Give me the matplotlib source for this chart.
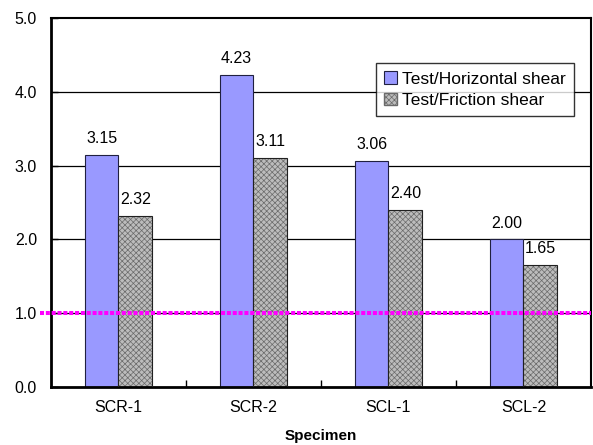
import numpy as np
import matplotlib.pyplot as plt

specimens = ['SCR-1', 'SCR-2', 'SCL-1', 'SCL-2']
horizontal_ratio = [3.15, 4.23, 3.06, 2.00]
friction_ratio = [2.32, 3.11, 2.40, 1.65]
ratio_ref = 1.0

plt.rcParams['font.family'] = ['Liberation Sans', 'DejaVu Sans']
plt.rcParams['hatch.linewidth'] = 0.5

fig = plt.figure(figsize=(5.93, 4.45), dpi=100)
ax = fig.add_axes([0.086, 0.130, 0.9105, 0.8296])

x = np.arange(len(specimens))
w = 0.25

# horizontal grid lines behind the bars
for yv in [1, 2, 3, 4]:
    ax.axhline(yv, color='black', lw=0.9, zorder=0)

ax.bar(x - w / 2, horizontal_ratio, w, color='#9999ff', edgecolor='#202040',
       linewidth=0.8, zorder=2, label='Test/Horizontal shear')
# hatched grey bars: texture first, then outline
ax.bar(x + w / 2, friction_ratio, w, color='#bcbcbc', edgecolor='#6a6a6a',
       hatch='xxxxxx', linewidth=0, zorder=2)
ax.bar(x + w / 2, friction_ratio, w, fill=False, edgecolor='#202020',
       linewidth=0.8, zorder=3)
ax.bar([0], [0], 0, color='#bcbcbc', edgecolor='#6a6a6a', hatch='xxxxxx',
       label='Test/Friction shear')

for xi, v in zip(x - w / 2, horizontal_ratio):
    ax.text(xi, v + 0.12, f'{v:.2f}', ha='center', va='bottom', fontsize=11.5)
for xi, v in zip(x + w / 2, friction_ratio):
    ax.text(xi, v + 0.12, f'{v:.2f}', ha='center', va='bottom', fontsize=11.5)

ax.plot([-0.58, 3.5], [ratio_ref, ratio_ref], color='#ff00ff', lw=2.9,
        dashes=(1, 0.45), zorder=4, clip_on=False)

ax.set_xlim(-0.5, 3.5)
ax.set_ylim(0, 5)
ax.set_yticks(np.arange(0, 5.1, 1.0))
ax.set_yticklabels([f'{v:.1f}' for v in np.arange(0, 5.1, 1.0)], fontsize=11.5)
ax.set_xticks(x)
ax.set_xticklabels(specimens, fontsize=11.5)
ax.set_xticks([0.5, 1.5, 2.5], minor=True)
ax.tick_params(axis='x', which='major', length=0, pad=9)
ax.tick_params(axis='x', which='minor', direction='in', length=5, width=1)
ax.tick_params(axis='y', direction='in', length=5, width=1, pad=10)

for side in ['left', 'bottom']:
    ax.spines[side].set_linewidth(2)
for side in ['top', 'right']:
    ax.spines[side].set_linewidth(1.5)

ax.set_xlabel('Specimen', fontsize=11, fontweight='bold', labelpad=10)

leg = ax.legend(loc='upper left', bbox_to_anchor=(0.602, 0.877), fontsize=12.5,
                frameon=True, fancybox=False, edgecolor='black',
                handlelength=0.75, handleheight=0.75, handletextpad=0.3,
                borderpad=0.45, labelspacing=0.35, borderaxespad=0)
leg.get_frame().set_linewidth(1)
leg.set_zorder(5)

fig.savefig('out.png', dpi=100)
